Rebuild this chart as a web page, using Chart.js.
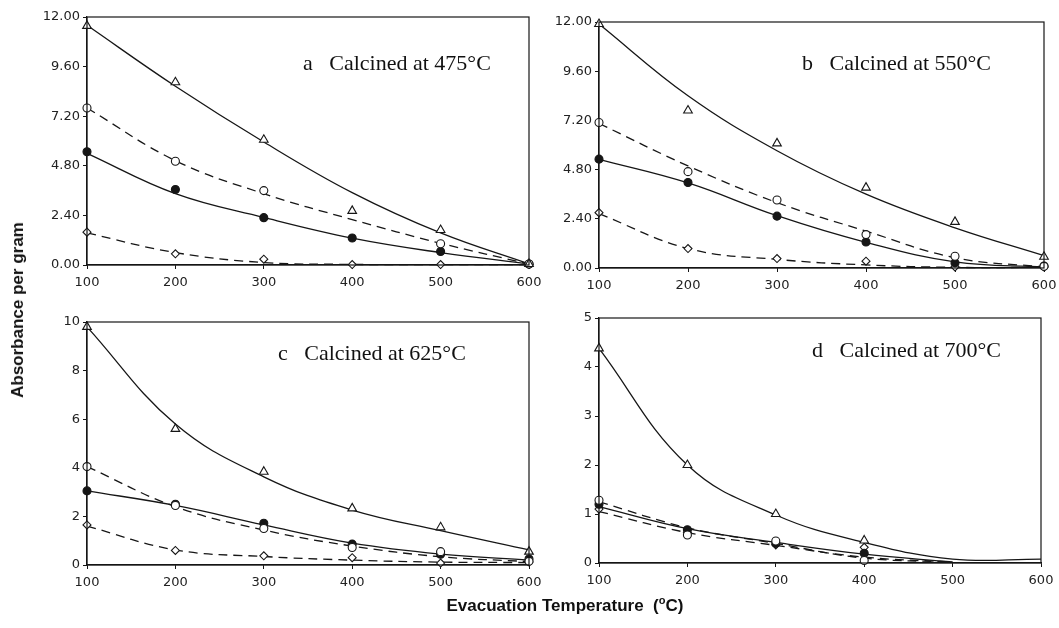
<!DOCTYPE html>
<html>
<head>
<meta charset="utf-8">
<script src="https://cdn.jsdelivr.net/npm/chart.js@4/dist/chart.umd.min.js"></script>
<style>
  html, body { margin:0; padding:0; background:#fff; }
  #wrap { position:relative; width:1059px; height:628px; overflow:hidden; background:#fff; }
  canvas { position:absolute; }
  .ann { position:absolute; font-family:"Liberation Serif", serif; font-size:22px; color:#111; white-space:pre; line-height:1; }
  .ytitle { position:absolute; font-family:"Liberation Sans", Arial, sans-serif; font-weight:bold; font-size:17px; color:#111; white-space:nowrap;
            transform-origin:center center; transform:translate(-50%,-50%) rotate(-90deg); left:18px; top:310px; }
  .xtitle { position:absolute; font-family:"Liberation Sans", Arial, sans-serif; font-weight:bold; font-size:17px; color:#111; white-space:pre;
            left:565px; top:605px; transform:translate(-50%,-50%); }
</style>
</head>
<body>
<div id="wrap">
  <canvas id="ca"></canvas>
  <canvas id="cb"></canvas>
  <canvas id="cc"></canvas>
  <canvas id="cd"></canvas>
  <div class="ann" style="left:303px; top:52px;">a   Calcined at 475°C</div>
  <div class="ann" style="left:802px; top:52px;">b   Calcined at 550°C</div>
  <div class="ann" style="left:278px; top:342px;">c   Calcined at 625°C</div>
  <div class="ann" style="left:812px; top:339px;">d   Calcined at 700°C</div>
  <div class="ytitle">Absorbance per gram</div>
  <div class="xtitle">Evacuation Temperature  (<sup style="font-size:11px">o</sup>C)</div>
</div>
<script>
// ---- data ----
const temps = [100, 200, 300, 400, 500, 600];

const ticksAB = [0, 2.4, 4.8, 7.2, 9.6, 12];
const ticksC = [0, 2, 4, 6, 8, 10];
const ticksD = [0, 1, 2, 3, 4, 5];
const xTicks = [100, 200, 300, 400, 500, 600];

// Panel a (475 C)
const aTriPts  = [11.57, 8.84, 6.06, 2.62, 1.69, 0.05];
const aTriFit  = [11.6, 8.65, 5.95, 3.5, 1.55, 0.05];
const aOpenPts = [7.6, 5.02, 3.6, null, 1.03, 0.05];
const aOpenFit = [7.6, 5.05, 3.45, 2.2, 1.05, 0.05];
const aFillPts = [5.48, 3.65, 2.29, 1.31, 0.65, 0.05];
const aFillFit = [5.4, 3.45, 2.3, 1.3, 0.6, 0.05];
const aDiaPts  = [1.59, 0.54, 0.28, 0.02, 0.02, 0.02];
const aDiaFit  = [1.55, 0.6, 0.12, 0.03, 0.02, 0.02];

// Panel b (550 C)
const bTriPts  = [11.9, 7.68, 6.08, 3.92, 2.25, 0.55];
const bTriFit  = [11.9, 8.4, 5.72, 3.6, 1.96, 0.6];
const bOpenPts = [7.1, 4.7, 3.32, 1.63, 0.57, 0.08];
const bOpenFit = [7.05, 4.98, 3.19, 1.8, 0.5, 0.05];
const bFillPts = [5.31, 4.17, 2.53, 1.27, 0.25, 0.1];
const bFillFit = [5.3, 4.15, 2.55, 1.25, 0.3, 0.05];
const bDiaPts  = [2.7, 0.95, 0.46, 0.33, 0.05, 0.05];
const bDiaFit  = [2.65, 0.95, 0.42, 0.15, 0.03, 0.03];

// Panel c (625 C)
const cTriPts  = [9.8, 5.6, 3.84, 2.33, 1.55, 0.55];
const cTriFit  = [9.8, 5.8, 3.63, 2.26, 1.41, 0.62];
const cOpenPts = [4.05, 2.45, 1.5, 0.72, 0.55, 0.15];
const cOpenFit = [4.05, 2.4, 1.44, 0.78, 0.34, 0.14];
const cFillPts = [3.05, 2.5, 1.72, 0.86, 0.44, 0.25];
const cFillFit = [3.05, 2.45, 1.65, 0.9, 0.45, 0.2];
const cDiaPts  = [1.65, 0.6, 0.38, 0.3, 0.08, 0.12];
const cDiaFit  = [1.6, 0.62, 0.35, 0.2, 0.12, 0.1];

// Panel d (700 C)
const dTriPts  = [4.38, 2.0, 1.0, 0.46, null, null];
const dTriFit  = [4.38, 2.0, 0.98, 0.42, 0.08, 0.08];
const dOpenPts = [1.28, 0.57, 0.45, 0.05, null, null];
const dOpenFit = [1.25, 0.72, 0.4, 0.1, 0.02, null];
const dFillPts = [1.2, 0.68, 0.4, 0.2, null, null];
const dFillFit = [1.15, 0.7, 0.42, 0.18, 0.02, null];
const dDiaPts  = [1.1, 0.62, 0.37, 0.32, null, null];
const dDiaFit  = [1.05, 0.62, 0.36, 0.12, 0.02, null];

// ---- chart building ----
const INK = '#161616';
const xy = arr => temps.map((t, i) => ({x: t, y: arr[i]}));

function fitDs(arr, dashed) {
  return { data: xy(arr), borderColor: INK, borderWidth: 1.3, pointRadius: 0,
           borderDash: dashed ? [9, 6] : [], tension: 0.4,
           fill: false, order: 2, clip: false, spanGaps: false };
}
function ptDs(arr, style, filled) {
  return { data: xy(arr), showLine: false, pointStyle: style, pointRadius: style === 'triangle' ? 5 : 4,
           pointBackgroundColor: filled ? INK : '#fff', pointBorderColor: INK, pointBorderWidth: 1.1,
           order: 1, clip: false };
}

const boxPlugin = {
  id: 'box',
  afterDatasetsDraw(chart) {
    const {ctx, chartArea: {left, top, right, bottom}} = chart;
    ctx.save();
    ctx.strokeStyle = INK; ctx.lineWidth = 1.2;
    ctx.strokeRect(left, top, right - left, bottom - top);
    ctx.restore();
  }
};

function makePanel(id, geo, yTicks, yMax, decimals, s) {
  const padT = 12, padR = 25, yW = 60, xH = 30;
  const cv = document.getElementById(id);
  const w = geo.R - geo.L + yW + padR;
  const h = geo.B - geo.T + padT + xH;
  cv.width = w; cv.height = h;
  cv.style.left = (geo.L - yW) + 'px';
  cv.style.top = (geo.T - padT) + 'px';
  new Chart(cv, {
    type: 'line',
    data: { datasets: [
      fitDs(s.triFit, false), fitDs(s.openFit, true), fitDs(s.fillFit, false), fitDs(s.diaFit, true),
      ptDs(s.triPts, 'triangle', false), ptDs(s.openPts, 'circle', false),
      ptDs(s.fillPts, 'circle', true), ptDs(s.diaPts, 'rectRot', false)
    ]},
    options: {
      responsive: false, animation: false, devicePixelRatio: 1,
      layout: { padding: { left: 0, top: padT, right: padR, bottom: 0 } },
      plugins: { legend: { display: false }, tooltip: { enabled: false } },
      scales: {
        x: {
          type: 'linear', min: 100, max: 600,
          afterBuildTicks: sc => { sc.ticks = xTicks.map(v => ({value: v})); },
          afterFit: sc => { sc.height = xH; },
          grid: { display: true, drawOnChartArea: false, drawTicks: true, tickLength: 4, color: INK },
          border: { display: true, color: INK, width: 1.2 },
          ticks: { color: '#222', font: { family: 'DejaVu Sans', size: 13 }, padding: 6, maxRotation: 0,
                   callback: v => String(v) }
        },
        y: {
          type: 'linear', min: 0, max: yMax,
          afterBuildTicks: sc => { sc.ticks = yTicks.map(v => ({value: v})); },
          afterFit: sc => { sc.width = yW; },
          grid: { display: true, drawOnChartArea: false, drawTicks: true, tickLength: 4, color: INK },
          border: { display: true, color: INK, width: 1.2 },
          ticks: { color: '#222', font: { family: 'DejaVu Sans', size: 13 }, padding: 3,
                   callback: v => Number(v).toFixed(decimals) }
        }
      }
    },
    plugins: [boxPlugin]
  });
}

makePanel('ca', {L: 87, R: 529, T: 17, B: 265}, ticksAB, 12, 2,
  {triPts: aTriPts, triFit: aTriFit, openPts: aOpenPts, openFit: aOpenFit,
   fillPts: aFillPts, fillFit: aFillFit, diaPts: aDiaPts, diaFit: aDiaFit});
makePanel('cb', {L: 599, R: 1044, T: 22, B: 268}, ticksAB, 12, 2,
  {triPts: bTriPts, triFit: bTriFit, openPts: bOpenPts, openFit: bOpenFit,
   fillPts: bFillPts, fillFit: bFillFit, diaPts: bDiaPts, diaFit: bDiaFit});
makePanel('cc', {L: 87, R: 529, T: 322, B: 565}, ticksC, 10, 0,
  {triPts: cTriPts, triFit: cTriFit, openPts: cOpenPts, openFit: cOpenFit,
   fillPts: cFillPts, fillFit: cFillFit, diaPts: cDiaPts, diaFit: cDiaFit});
makePanel('cd', {L: 599, R: 1041, T: 318, B: 563}, ticksD, 5, 0,
  {triPts: dTriPts, triFit: dTriFit, openPts: dOpenPts, openFit: dOpenFit,
   fillPts: dFillPts, fillFit: dFillFit, diaPts: dDiaPts, diaFit: dDiaFit});
</script>
</body>
</html>
